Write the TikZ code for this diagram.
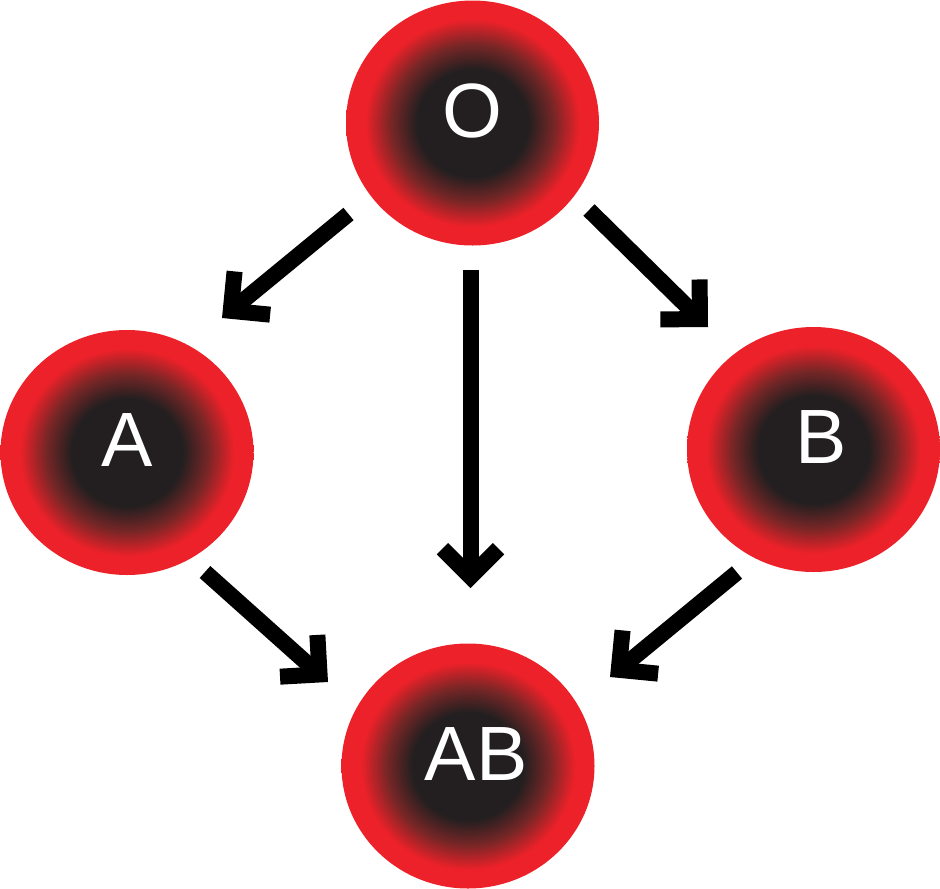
\documentclass[tikz,border=0pt]{standalone}
\usepackage{fontspec}
\setmainfont{Liberation Sans}
\usetikzlibrary{shapes.geometric,arrows.meta}
\definecolor{cred}{RGB}{237,33,41}
\definecolor{cdark}{RGB}{35,31,32}
\definecolor{cmid}{RGB}{120,38,38}
\pgfdeclareradialshading{cellshade}{\pgfpoint{0bp}{0bp}}{color(0bp)=(cdark); color(11bp)=(cdark); color(16.1bp)=(cmid); color(21.2bp)=(cred); color(25bp)=(cred); color(50bp)=(cred)}
\tikzset{
  cell/.style={ellipse, inner sep=0pt, minimum width=253pt, minimum height=245pt,
    shading=cellshade, text=white, text depth=24pt,
    font=\fontsize{77}{77}\selectfont},
  flow/.style={line width=16pt, draw=black,
    -{Straight Barb[length=28pt, width=56pt, sharp]}}
}
\begin{document}
\begin{tikzpicture}[x=1pt, y=-1pt]
\useasboundingbox (0,0) rectangle (940,889);
\node[cell] (O)  at (472.5,123)   {O};
\node[cell] (A)  at (127,452.5)   {A};
\node[cell] (B)  at (813.5,449.5) {\hspace*{16pt}B};
\node[cell] (AB) at (468,766)     {\hspace*{16pt}AB};
% arrow end points
\coordinate (oa1) at (348.5,214);
\coordinate (oa2) at (222,318);
\coordinate (ob1) at (589,210);
\coordinate (ob2) at (708,327);
\coordinate (oab1) at (470.5,270);
\coordinate (oab2) at (470.5,588);
\coordinate (aab1) at (205,572);
\coordinate (aab2) at (328,682);
\coordinate (bab1) at (737,572.5);
\coordinate (bab2) at (610,677);
\draw[flow] (oa1) -- (oa2);
\draw[flow] (ob1) -- (ob2);
\draw[flow] (oab1) -- (oab2);
\draw[flow] (aab1) -- (aab2);
\draw[flow] (bab1) -- (bab2);
\end{tikzpicture}
\end{document}
